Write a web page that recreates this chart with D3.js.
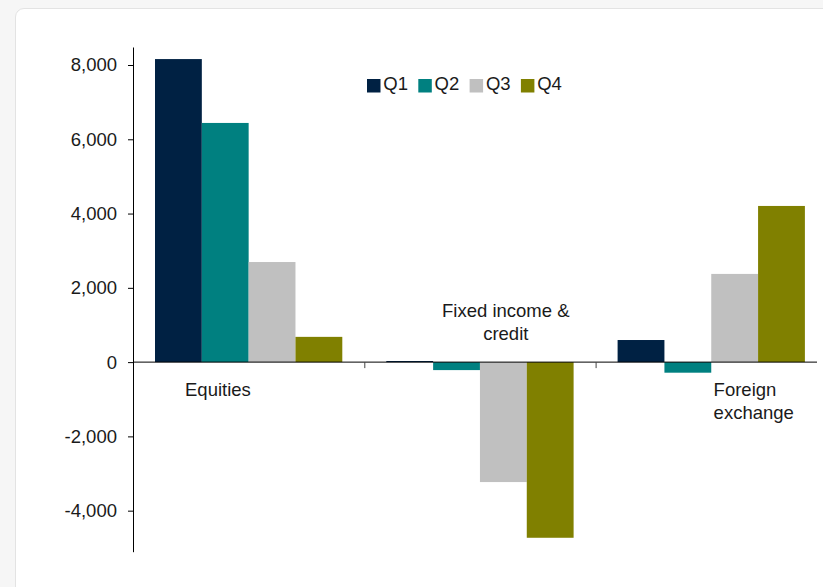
<!DOCTYPE html>
<html>
<head>
<meta charset="utf-8">
<script src="https://cdn.jsdelivr.net/npm/d3@7/dist/d3.min.js"></script>
<style>
  html, body { margin: 0; padding: 0; background: #f6f6f6; }
  body { width: 823px; height: 587px; overflow: hidden; position: relative; }
  #card { position: absolute; left: 15px; top: 8px; width: 840px; height: 620px;
          background: #fff; border: 1px solid #e3e3e3; border-radius: 9px; }
  svg { position: absolute; left: 0; top: 0; }
  text { font-family: "Liberation Sans", Arial, sans-serif; fill: #1a1a1a; }
</style>
</head>
<body>
<div id="card"></div>
<svg id="chart" width="823" height="587"></svg>
<script>
// ---- data ----
const categories = ["Equities", "Fixed income & credit", "Foreign exchange"];
const series = ["Q1", "Q2", "Q3", "Q4"];
const q1 = [8160, 30, 595];
const q2 = [6440, -215, -285];
const q3 = [2695, -3230, 2375];
const q4 = [680, -4730, 4205];
const yTicks = [-4000, -2000, 0, 2000, 4000, 6000, 8000];
const categoryLines = [["Equities"], ["Fixed income &", "credit"], ["Foreign", "exchange"]];

// ---- layout / style (kept separate from data) ----
const colors = { Q1: "#002143", Q2: "#008080", Q3: "#c0c0c0", Q4: "#808000" };
const plot = { left: 133, top: 47, bottom: 551.7, axisRight: 817, band: 231.3 };
const fontSize = "18.5px";
const labelLayout = [
  { dx: 52, anchor: "start", y: 396 },
  { dx: 141.5, anchor: "middle", y: 317 },
  { dx: 118, anchor: "start", y: 396 }
];
const values = { Q1: q1, Q2: q2, Q3: q3, Q4: q4 };

const svg = d3.select("#chart");

const y = d3.scaleLinear().domain([-5105, 8485]).range([plot.bottom, plot.top]);
const x = d3.scaleBand().domain(categories)
  .range([plot.left, plot.left + plot.band * categories.length]).padding(0);
const xs = d3.scaleBand().domain(series).range([22, plot.band - 22]).padding(0);

// bars
const data = [];
categories.forEach((c, i) => series.forEach(s => data.push({ c, s, v: values[s][i] })));
svg.append("g").selectAll("rect").data(data).join("rect")
  .attr("x", d => x(d.c) + xs(d.s))
  .attr("width", xs.bandwidth())
  .attr("y", d => y(Math.max(0, d.v)))
  .attr("height", d => Math.abs(y(d.v) - y(0)))
  .attr("fill", d => colors[d.s]);

// y axis
const fmt = d3.formatLocale({ decimal: ".", thousands: ",", grouping: [3], currency: ["", ""], minus: "-" }).format(",");
const yAxis = svg.append("g").attr("transform", `translate(${plot.left},0)`)
  .call(d3.axisLeft(y).tickValues(yTicks).tickFormat(fmt).tickSize(5).tickSizeOuter(0).tickPadding(11));
yAxis.select(".domain").attr("stroke", "#000");
yAxis.selectAll(".tick line").attr("stroke", "#000");
yAxis.selectAll("text").style("font-size", fontSize).attr("fill", "#1a1a1a")
  .style("font-family", "'Liberation Sans', Arial, sans-serif");

// x axis line at zero
svg.append("line").attr("x1", plot.left).attr("x2", plot.axisRight)
  .attr("y1", y(0)).attr("y2", y(0)).attr("stroke", "#000").attr("stroke-width", 1);
// category boundary ticks
svg.append("g").selectAll("line").data(categories.slice(1)).join("line")
  .attr("x1", d => x(d) + 0.5).attr("x2", d => x(d) + 0.5)
  .attr("y1", y(0)).attr("y2", y(0) + 6).attr("stroke", "#444");

// category labels
categories.forEach((c, i) => {
  const L = labelLayout[i];
  const t = svg.append("text").attr("text-anchor", L.anchor).style("font-size", fontSize);
  categoryLines[i].forEach((line, k) => {
    t.append("tspan").attr("x", x(c) + L.dx).attr("y", L.y + k * 22.5).text(line);
  });
});

// legend
const legend = svg.append("g").attr("transform", "translate(367,0)");
series.forEach((s, i) => {
  const g = legend.append("g").attr("transform", `translate(${i * 51.3},0)`);
  g.append("rect").attr("x", 0).attr("y", 79).attr("width", 13.5).attr("height", 13.5).attr("fill", colors[s]);
  g.append("text").attr("x", 16.3).attr("y", 89.5).style("font-size", fontSize).text(s);
});
</script>
</body>
</html>
